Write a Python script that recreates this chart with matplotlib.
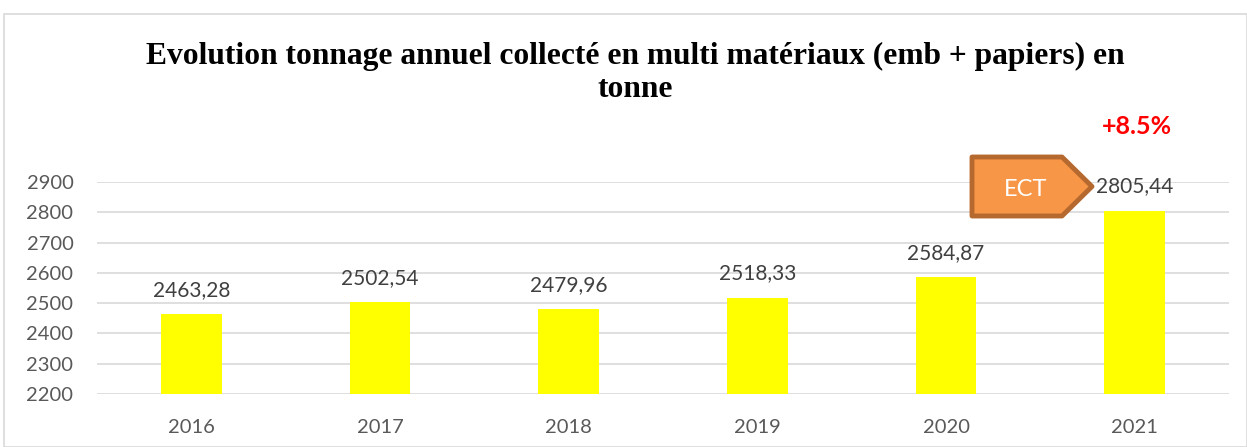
import matplotlib
matplotlib.use("Agg")
import matplotlib.pyplot as plt
from matplotlib.patches import Polygon, Rectangle

years = ["2016", "2017", "2018", "2019", "2020", "2021"]
tonnage = [2463.28, 2502.54, 2479.96, 2518.33, 2584.87, 2805.44]
value_labels = ["2463,28", "2502,54", "2479,96", "2518,33", "2584,87", "2805,44"]
yticks = [2200, 2300, 2400, 2500, 2600, 2700, 2800, 2900]
title = "Evolution tonnage annuel collecté en multi matériaux (emb + papiers) en\ntonne"

W, H = 1247, 447
fig = plt.figure(figsize=(W / 100, H / 100), dpi=100)
fig.patch.set_facecolor("white")

# outer chart border
fig.patches.append(Rectangle((4 / W, 0), 1 - 4 / W, 1 - 14 / H, transform=fig.transFigure,
                             fill=False, edgecolor="#D9D9D9", linewidth=1.2))

ax = fig.add_axes([97 / W, 1 - 394 / H, (1229 - 97) / W, (394 - 182) / H])
x = list(range(len(years)))
ax.bar(x, tonnage, width=0.32, color="#FFFF00", zorder=3)
ax.set_xlim(-0.5, len(years) - 0.5)
ax.set_ylim(2200, 2900)
ax.set_yticks(yticks)
ax.set_xticks(x)
ax.set_xticklabels(years)
ax.grid(axis="y", color="#D9D9D9", linewidth=1.2, zorder=0)
for s in ax.spines.values():
    s.set_visible(False)
ax.tick_params(axis="both", length=0, labelsize=14.5, colors="#595959")
ax.tick_params(axis="x", pad=18)
ax.tick_params(axis="y", pad=17)
for lab in ax.get_xticklabels() + ax.get_yticklabels():
    lab.set_fontfamily("Lato")

for xi, v, lab in zip(x, tonnage, value_labels):
    ax.annotate(lab, (xi, v), xytext=(0, 10.5), textcoords="offset points",
                ha="center", va="bottom", fontsize=15, color="#404040",
                family="Lato", zorder=4)

fig.text(635 / W, 1 - 73 / H, title, ha="center", va="center", fontsize=22.7,
         fontweight="bold", family="Liberation Serif", linespacing=1.2)

# ECT arrow
pts = [(972, 157), (1062, 157), (1092, 186.5), (1062, 216), (972, 216)]
poly = Polygon([(px / W, 1 - py / H) for px, py in pts], closed=True,
               transform=fig.transFigure, facecolor="#F79646", edgecolor="#B5692F",
               linewidth=3.5, joinstyle="round", zorder=5)
fig.patches.append(poly)
fig.text(1026 / W, 1 - 189 / H, "ECT", ha="center", va="center", fontsize=17,
         color="white", family="Lato", zorder=6)

fig.text(1137 / W, 1 - 126 / H, "+8.5%", ha="center", va="center", fontsize=18,
         fontweight="bold", color="#FF0000", family="Lato")

fig.savefig("out.png", dpi=100)
